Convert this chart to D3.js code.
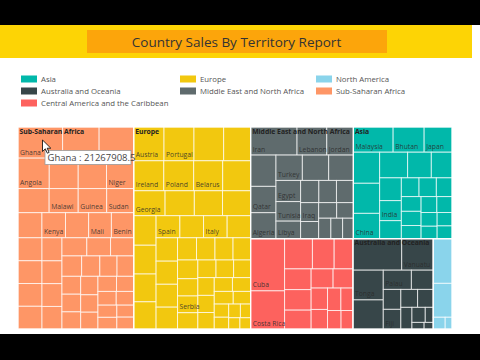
<!DOCTYPE html>
<html><head><meta charset="utf-8">
<script src="https://cdn.jsdelivr.net/npm/d3@7"></script>
<style>
html,body{margin:0;padding:0;background:#fff;}
svg{display:block;font-family:"Segoe UI","Open Sans","Noto Sans",sans-serif;}
</style></head><body>
<svg id="chart" width="480" height="360"></svg>
<script>
// ---------- data (sales values, relative units) ----------
const title = "Country Sales By Territory Report";
const regions = ["Sub-Saharan Africa","Europe","Middle East and North Africa","Asia",
  "Central America and the Caribbean","Australia and Oceania","North America"];
const legendItems = ["Asia","Australia and Oceania","Central America and the Caribbean",
  "Europe","Middle East and North Africa","North America","Sub-Saharan Africa"];

const ssaCountries = ["Ghana","Togo","Rwanda","Angola","Nigeria","Eritrea","Niger","Chad","Malawi","Guinea","Sudan","Uganda","Kenya","Gabon","Mali","Benin","Senegal","Zambia","Liberia","Somalia","Namibia","Lesotho","Burundi","Cameroon","Djibouti","Comoros","Mauritius","Tanzania","Botswana","Zimbabwe","Madagascar","Ethiopia","Mozambique","Seychelles","Swaziland","South Sudan","Cape Verde","Mauritania","Sierra Leone","South Africa","The Gambia","Burkina Faso","Guinea-Bissau","Equatorial Guinea","Cote d'Ivoire"];
const ssaSales = [1386,1135,1076,950,880,860,828,750,700,686,652,600,590,580,570,560,550,545,545,544,460,455,455,450,450,430,420,400,370,350,340,334,330,320,319,300,290,280,260,250,240,230,220,202,200];

const europeCountries = ["Austria","Portugal","Slovakia","Bulgaria","Ireland","Poland","Belarus","Iceland","Georgia","Latvia","Finland","Hungary","Moldova","Norway","Romania","Croatia","Spain","Sweden","Italy","Greece","Armenia","Belgium","Cyprus","Denmark","Estonia","France","Germany","Andorra","Ukraine","Albania","Serbia","Bosnia and Herzegovina","Czech Republic","Kosovo","Liechtenstein","Lithuania","Luxembourg","Macedonia","Malta","Monaco","Montenegro","Netherlands","Russia","San Marino","Slovenia","Switzerland","United Kingdom","Vatican City"];
const europeSales = [1021,1011,1001,910,900,895,868,837,780,728,702,700,658,642,620,606,525,522,520,518,500,495,490,468,420,410,400,390,380,350,340,330,320,310,300,290,280,270,250,250,240,220,190,170,160,140,126,120];

const menaCountries = ["Iran","Lebanon","Jordan","Kuwait","Qatar","Algeria","Turkey","Oman","Saudi Arabia","Egypt","Tunisia","Libya","Syria","Bahrain","Morocco","Iraq","Yemen","United Arab Emirates","Pakistan","Afghanistan","Azerbaijan","Israel"];
const menaSales = [1300,834,745,792,667,658,667,667,625,520,480,432,405,390,375,340,310,280,260,250,240,220];

const asiaCountries = ["Malaysia","Bhutan","Japan","Mongolia","Nepal","China","Thailand","Vietnam","Cambodia","Laos","India","Myanmar","Indonesia","Philippines","Singapore","Sri Lanka","South Korea","North Korea","Taiwan","Bangladesh","Brunei","Maldives","Kazakhstan","Tajikistan"];
const asiaSales = [1000,780,701,815,789,665,717,607,530,493,434,391,331,324,293,290,280,260,250,240,220,200,199,190];

const caCountries = ["Cuba","Costa Rica","Haiti","Honduras","Panama","Jamaica","Belize","Grenada","Dominica","Barbados","Guatemala","Nicaragua","El Salvador","Saint Lucia","Dominican Republic","Antigua and Barbuda"];
const caSales = [1768,1292,839,655,567,549,543,500,420,380,350,320,300,270,250,220];

const ausCountries = ["Australia","Vanuatu","Tonga","Samoa","Palau","Kiribati","Nauru","Fiji","New Zealand","Tuvalu","Solomon Islands","Papua New Guinea","Marshall Islands","Federated States of Micronesia","East Timor"];
const ausSales = [1530,990,900,880,540,420,350,345,300,280,240,200,120,80,60];

const naCountries = ["Mexico","Canada","United States of America","Greenland"];
const naSales = [836,635,140,80];

const shownLabels = ["Ghana","Angola","Niger","Malawi","Guinea","Sudan","Kenya","Mali","Benin",
  "Austria","Portugal","Ireland","Poland","Belarus","Georgia","Spain","Italy","Serbia",
  "Iran","Lebanon","Jordan","Turkey","Qatar","Egypt","Tunisia","Algeria","Libya","Iraq",
  "Malaysia","Bhutan","Japan","India","China","Cuba","Costa Rica","Vanuatu","Tonga","Palau","Fiji"];
const shownRegionLabels = ["Sub-Saharan Africa","Europe","Middle East and North Africa","Asia","Australia and Oceania"];
const tooltipText = "Ghana : 21267908.5";

// ---------- styles ----------
const regionColor = {
  "Asia":"#01B8AA","Australia and Oceania":"#374649","Central America and the Caribbean":"#FD625E",
  "Europe":"#F2C80F","Middle East and North Africa":"#5F6B6D","North America":"#8AD4EB",
  "Sub-Saharan Africa":"#FE9666"};

const regionCountries = [ssaCountries,europeCountries,menaCountries,asiaCountries,caCountries,ausCountries,naCountries];
const regionSales = [ssaSales,europeSales,menaSales,asiaSales,caSales,ausSales,naSales];

const svg = d3.select("#chart");
// black video bands
svg.append("rect").attr("x",0).attr("y",0).attr("width",480).attr("height",25).attr("fill","#000");
svg.append("rect").attr("x",0).attr("y",334).attr("width",480).attr("height",26).attr("fill","#000");
// title bar
svg.append("rect").attr("x",0).attr("y",25).attr("width",472).attr("height",33).attr("fill","#FDD405");
svg.append("rect").attr("x",87).attr("y",30).attr("width",300).attr("height",23).attr("fill","#FCA50B");
svg.append("text").attr("x",236.5).attr("y",46.5).attr("text-anchor","middle")
  .attr("font-size",13.5).attr("fill","#333").text(title);

// legend
const legCols = [21,180,316];
const legRows = [79,91,103];
const legPos = [[0,0],[0,1],[0,2],[1,0],[1,1],[2,0],[2,1]];
const leg = svg.append("g").selectAll("g").data(legendItems).join("g")
  .attr("transform",(d,i)=>`translate(${legCols[legPos[i][0]]},${legRows[legPos[i][1]]})`);
leg.append("rect").attr("x",0).attr("y",-3.5).attr("width",16).attr("height",7).attr("fill",d=>regionColor[d]);
leg.append("text").attr("x",20).attr("y",3).attr("font-size",7.8).attr("fill","#555").text(d=>d);

// treemap
const W = 434, H = 202;
const rootData = {name:"root", children: regions.map((r,i)=>({
  name:r, children: regionCountries[i].map((c,j)=>({name:c, value: regionSales[i][j]}))}))};
const root = d3.hierarchy(rootData).sum(d=>d.value);
d3.treemap().tile(d3.treemapSquarify.ratio(1)).size([W,H]).round(false)(root);

const g = svg.append("g").attr("transform","translate(18,127)");
g.selectAll("rect.leaf").data(root.leaves()).join("rect").attr("class","leaf")
  .attr("x",d=>d.x0).attr("y",d=>d.y0).attr("width",d=>d.x1-d.x0).attr("height",d=>d.y1-d.y0)
  .attr("fill",d=>regionColor[d.parent.data.name])
  .attr("stroke","rgba(255,255,255,0.7)").attr("stroke-width",1);
g.selectAll("rect.region").data(root.children).join("rect").attr("class","region")
  .attr("x",d=>d.x0).attr("y",d=>d.y0).attr("width",d=>d.x1-d.x0).attr("height",d=>d.y1-d.y0)
  .attr("fill","none").attr("stroke","rgba(255,255,255,0.8)").attr("stroke-width",1.2);
g.selectAll("text.leaf").data(root.leaves().filter(d=>shownLabels.includes(d.data.name))).join("text")
  .attr("class","leaf").attr("x",d=>d.x0+2).attr("y",d=>d.y1-3.5)
  .attr("font-size",6.8).attr("fill","#2a2a2a").attr("fill-opacity",0.85).text(d=>d.data.name);
g.selectAll("text.region").data(root.children.filter(d=>shownRegionLabels.includes(d.data.name))).join("text")
  .attr("class","region").attr("x",d=>d.x0+1.5).attr("y",d=>d.y0+6.5)
  .attr("font-size",6.8).attr("font-weight","bold").attr("fill","#222").text(d=>d.data.name);

// tooltip for Ghana
const ghana = root.leaves().find(d=>d.data.name==="Ghana");
const tip = g.append("g").attr("transform",`translate(${ghana.x0+27},${ghana.y0+23.5})`);
tip.append("rect").attr("x",0).attr("y",0).attr("width",86).attr("height",14)
  .attr("fill","#fff").attr("stroke","#999").attr("stroke-width",0.8);
tip.append("text").attr("x",2.5).attr("y",10.5).attr("font-size",9.5).attr("fill","#444").text(tooltipText);
// mouse cursor
g.append("path").attr("transform",`translate(${ghana.x0+24.5},${ghana.y0+13})`)
  .attr("d","M0,0 L0,11.5 L2.8,8.8 L4.8,13.2 L6.6,12.4 L4.7,8.2 L8.3,8.2 Z")
  .attr("fill","#fff").attr("stroke","#000").attr("stroke-width",0.8);
</script>
</body></html>
